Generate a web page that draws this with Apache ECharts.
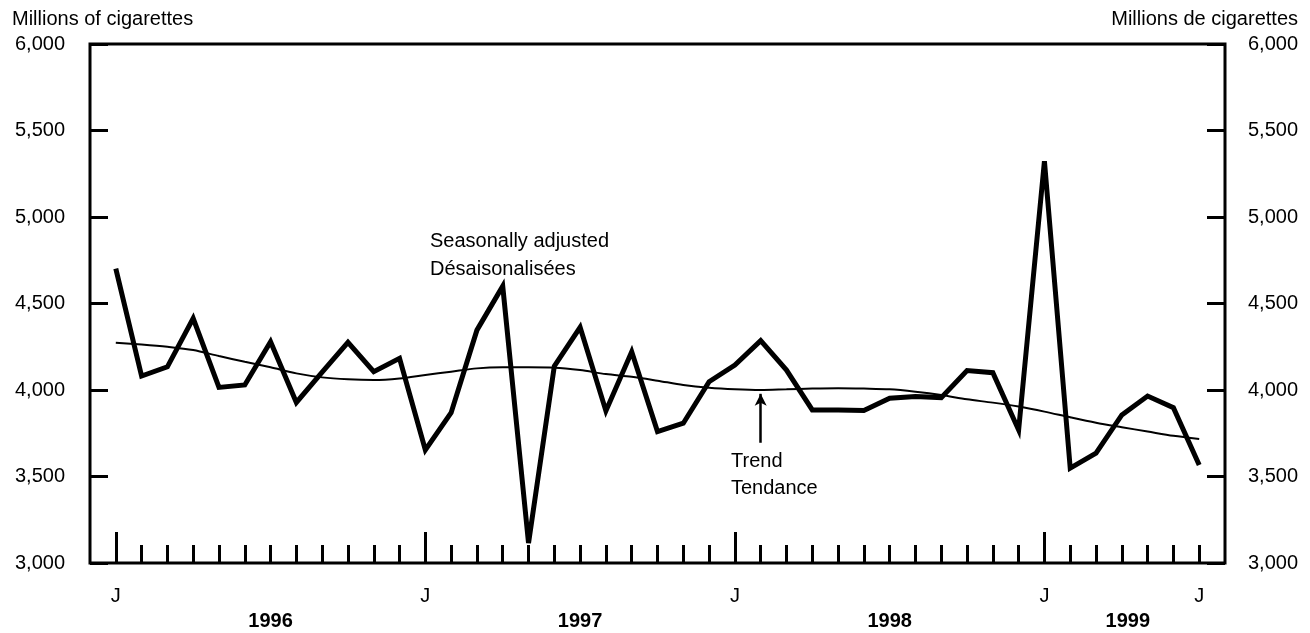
<!DOCTYPE html>
<html>
<head>
<meta charset="utf-8">
<script src="https://cdn.jsdelivr.net/npm/echarts@6/dist/echarts.min.js"></script>
<style>
  html, body { margin: 0; padding: 0; background: #fff; }
  #chart { width: 1310px; height: 633px; }
</style>
</head>
<body>
<div id="chart"></div>
<script>
// Monthly categories (axis runs one month before the first and after the last observation)
var months = [
  '1995-12',
  '1996-01','1996-02','1996-03','1996-04','1996-05','1996-06','1996-07','1996-08','1996-09','1996-10','1996-11','1996-12',
  '1997-01','1997-02','1997-03','1997-04','1997-05','1997-06','1997-07','1997-08','1997-09','1997-10','1997-11','1997-12',
  '1998-01','1998-02','1998-03','1998-04','1998-05','1998-06','1998-07','1998-08','1998-09','1998-10','1998-11','1998-12',
  '1999-01','1999-02','1999-03','1999-04','1999-05','1999-06','1999-07',
  '1999-08'
];

// Seasonally adjusted production, Jan 1996 - Jul 1999 (millions of cigarettes)
var seasonallyAdjusted = [
  4702, 4081, 4134, 4414, 4015, 4029, 4279, 3928, 4103, 4276, 4106, 4183,
  3654, 3869, 4346, 4600, 3115, 4138, 4362, 3879, 4221, 3760, 3808, 4048,
  4144, 4285, 4115, 3885, 3885, 3881, 3952, 3962, 3956, 4112, 4100, 3769,
  5323, 3548, 3635, 3856, 3965, 3898, 3567
];

// Trend, Jan 1996 - Jul 1999
var trend = [
  4273, 4263, 4250, 4231, 4196, 4163, 4131, 4096, 4073, 4062, 4058, 4067,
  4087, 4106, 4125, 4131, 4131, 4129, 4115, 4092, 4077, 4054, 4029, 4013,
  4004, 4000, 4004, 4008, 4010, 4008, 4004, 3990, 3971, 3946, 3927, 3904,
  3875, 3842, 3811, 3785, 3760, 3735, 3717
];

// Tick labels
var monthTickLabels = { '1996-01': 'J', '1997-01': 'J', '1998-01': 'J', '1999-01': 'J', '1999-07': 'J' };
var yearTickLabels = { '1996-07': '1996', '1997-07': '1997', '1998-07': '1998', '1999-04': '1999' };
var longTickMonths = ['1996-01', '1997-01', '1998-01', '1999-01'];
var yTicks = { min: 3000, max: 6000, step: 500 };

var FONT = "'Liberation Sans', Arial, Helvetica, sans-serif";
var INK = '#000';

function pad(arr) { return [null].concat(arr, [null]); }
function fmt(v) { return v.toLocaleString('en-US'); }

var chart = echarts.init(document.getElementById('chart'), null, { renderer: 'canvas' });

var baseX = {
  type: 'category',
  data: months,
  boundaryGap: false,
  position: 'bottom',
  gridIndex: 0,
  axisLine: { show: false },
  splitLine: { show: false }
};

var option = {
  animation: false,
  backgroundColor: '#fff',
  title: [
    { text: 'Millions of cigarettes', left: 7, top: 4,
      textStyle: { fontFamily: FONT, fontSize: 20, fontWeight: 'normal', color: INK } },
    { text: 'Millions de cigarettes', right: 7, top: 4,
      textStyle: { fontFamily: FONT, fontSize: 20, fontWeight: 'normal', color: INK } }
  ],
  grid: {
    left: 90, right: 85, top: 44, bottom: 70,
    show: true, borderColor: INK, borderWidth: 3, backgroundColor: 'transparent'
  },
  xAxis: [
    Object.assign({}, baseX, {
      axisTick: {
        show: true, inside: true, length: 18,
        lineStyle: { color: INK, width: 3 },
        interval: function (i, v) { return i > 0 && i < months.length - 1 && longTickMonths.indexOf(v) < 0; }
      },
      axisLabel: {
        show: true, margin: 23,
        interval: function (i, v) { return monthTickLabels[v] !== undefined; },
        formatter: function (v) { return monthTickLabels[v] || ''; },
        fontFamily: FONT, fontSize: 20, color: INK
      }
    }),
    Object.assign({}, baseX, {
      axisTick: {
        show: true, inside: true, length: 31,
        lineStyle: { color: INK, width: 3 },
        interval: function (i, v) { return longTickMonths.indexOf(v) >= 0; }
      },
      axisLabel: { show: false }
    }),
    Object.assign({}, baseX, {
      axisTick: { show: false },
      axisLabel: {
        show: true, margin: 48,
        interval: function (i, v) { return yearTickLabels[v] !== undefined; },
        formatter: function (v) {
          var t = yearTickLabels[v] || '';
          return v === '1999-04' ? '{s|' + t + '}' : t;
        },
        rich: { s: { fontFamily: FONT, fontSize: 20, fontWeight: 'bold', color: INK, padding: [0, 0, 0, 12] } },
        fontFamily: FONT, fontSize: 20, fontWeight: 'bold', color: INK
      }
    })
  ],
  yAxis: [
    {
      type: 'value', position: 'left',
      min: yTicks.min, max: yTicks.max, interval: yTicks.step,
      axisLine: { show: false },
      splitLine: { show: false },
      axisTick: { show: true, inside: true, length: 18, lineStyle: { color: INK, width: 3 } },
      axisLabel: { margin: 25, formatter: fmt, fontFamily: FONT, fontSize: 20, color: INK }
    },
    {
      type: 'value', position: 'right',
      min: yTicks.min, max: yTicks.max, interval: yTicks.step,
      axisLine: { show: false },
      splitLine: { show: false },
      axisTick: { show: true, inside: true, length: 18, lineStyle: { color: INK, width: 3 } },
      axisLabel: { margin: 23, formatter: fmt, fontFamily: FONT, fontSize: 20, color: INK }
    }
  ],
  series: [
    {
      name: 'Trend',
      type: 'line',
      xAxisIndex: 0, yAxisIndex: 0,
      data: pad(trend),
      smooth: 0.3,
      showSymbol: false,
      lineStyle: { color: INK, width: 2 },
      z: 2,
      markLine: {
        silent: true,
        symbol: ['none', 'arrow'],
        symbolSize: [9, 12],
        label: { show: false },
        lineStyle: { color: INK, width: 2.5, type: 'solid' },
        data: [[{ coord: ['1998-02', 3695] }, { coord: ['1998-02', 3978] }]]
      }
    },
    {
      name: 'Seasonally adjusted',
      type: 'line',
      xAxisIndex: 0, yAxisIndex: 0,
      data: pad(seasonallyAdjusted),
      showSymbol: false,
      lineStyle: { color: INK, width: 5, join: 'miter', miterLimit: 6 },
      z: 3
    }
  ],
  graphic: [
    { type: 'text', left: 430, top: 227,
      style: { text: 'Seasonally adjusted\nDésaisonalisées', font: '20px ' + FONT, lineHeight: 28, fill: INK } },
    { type: 'text', left: 731, top: 448,
      style: { text: 'Trend\nTendance', font: '20px ' + FONT, lineHeight: 27, fill: INK } }
  ]
};

chart.setOption(option);
</script>
</body>
</html>
